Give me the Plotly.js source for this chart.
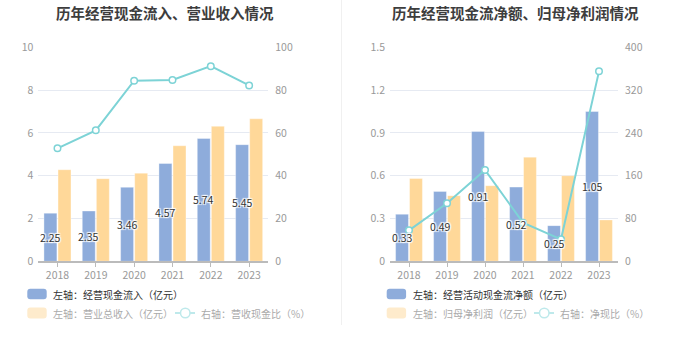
<!DOCTYPE html>
<html>
<head>
<meta charset="utf-8">
<script src="https://cdn.plot.ly/plotly-3.0.1.min.js"></script>
<style>html,body{margin:0;padding:0;background:#fff;}#chart{width:680px;height:349px;}</style>
</head>
<body>
<div id="chart"></div>
<script>
// ---- data ----
const years = ['2018', '2019', '2020', '2021', '2022', '2023'];
const cashInflow = [2.25, 2.35, 3.46, 4.57, 5.74, 5.45];
const revenue = [4.28, 3.86, 4.12, 5.40, 6.31, 6.66];
const cashRevRatio = [52.8, 61.2, 84.4, 84.7, 91.2, 82.2];
const netCashFlow = [0.33, 0.49, 0.91, 0.52, 0.25, 1.05];
const netProfit = [0.58, 0.46, 0.53, 0.73, 0.60, 0.29];
const netCashRatio = [57.9, 108.4, 170.7, 72.2, 41.1, 355];
const titles = ['历年经营现金流入、营业收入情况', '历年经营现金流净额、归母净利润情况'];
const legendLeft = ['左轴：经营现金流入（亿元）', '左轴：营业总收入（亿元）', '右轴：营收现金比（%）'];
const legendRight = ['左轴：经营活动现金流净额（亿元）', '左轴：归母净利润（亿元）', '右轴：净现比（%）'];

// ---- style ----
const W = 680, H = 349;
const px = x => x / W;
const py = y => 1 - y / H;
const FONT = '"Noto Sans CJK SC", "Noto Sans", sans-serif';
const BLUE = 'rgb(142,172,219)';
const YELLOW = 'rgb(255,216,153)';
const CYAN = 'rgb(125,211,214)';
const YELLOW_FADED = 'rgb(254,235,204)';
const CYAN_FADED = 'rgb(190,233,235)';
const halo = '1px 1px 1px #fff, -1px -1px 1px #fff, 1px -1px 1px #fff, -1px 1px 1px #fff, 0 0 2px #fff';

// bar geometry in category units
const GROUP = 0.735, SLOT = GROUP / 2, BAR_W = SLOT * 0.92;
const OFF_BLUE = -GROUP / 2 + (SLOT - BAR_W) / 2;
const OFF_YEL = OFF_BLUE + SLOT;
const BLUE_CENTER = OFF_BLUE + BAR_W / 2;
const barLine = { color: 'rgba(255,255,255,0.6)', width: 0.6 };

function barTrace(y, color, xa, ya, off) {
  return { type: 'bar', x: years, y: y, xaxis: xa, yaxis: ya, width: BAR_W, offset: off,
    marker: { color: color, line: barLine }, hoverinfo: 'skip' };
}
function lineTrace(y, xa, ya) {
  return { type: 'scatter', mode: 'lines+markers', x: years, y: y, xaxis: xa, yaxis: ya,
    line: { color: CYAN, width: 2 }, marker: { symbol: 'circle', size: 6.5, color: '#fff', line: { color: CYAN, width: 1.5 } },
    hoverinfo: 'skip', cliponaxis: false };
}

const traces = [
  barTrace(revenue, YELLOW, 'x', 'y', OFF_YEL),
  barTrace(cashInflow, BLUE, 'x', 'y', OFF_BLUE),
  lineTrace(cashRevRatio, 'x', 'y2'),
  barTrace(netProfit, YELLOW, 'x2', 'y3', OFF_YEL),
  barTrace(netCashFlow, BLUE, 'x2', 'y3', OFF_BLUE),
  lineTrace(netCashRatio, 'x2', 'y4')
];

const yDom = [py(261.3), py(47.3)];
const tickFont = { family: FONT, size: 10.5, color: '#999' };
function xAxis(dom, anchor) {
  return { domain: dom, anchor: anchor, type: 'category', range: [-0.5, years.length - 0.5], showgrid: false, zeroline: false,
    showline: true, linecolor: '#bbb', linewidth: 1.5, ticks: 'outside', ticklen: 4, tickcolor: '#bbb', tickwidth: 1,
    tickfont: tickFont, fixedrange: true };
}
function yLeft(range, dtick, anchor) {
  return { domain: yDom, anchor: anchor, range: range, dtick: dtick, tick0: 0, showgrid: true, gridcolor: '#e6eaf2', gridwidth: 1,
    zeroline: false, showline: false, ticks: '', tickfont: tickFont, ticklabelstandoff: 4, fixedrange: true };
}
function yRight(range, dtick, overlay, anchor) {
  return { overlaying: overlay, anchor: anchor, side: 'right', range: range, dtick: dtick, tick0: 0, showgrid: false,
    zeroline: false, showline: false, ticks: '', tickfont: tickFont, ticklabelstandoff: 6, fixedrange: true };
}

function roundRect(x0, y0, x1, y1, r) {
  const X = v => px(v), Y = v => py(v);
  return `M ${X(x0 + r)} ${Y(y0)} L ${X(x1 - r)} ${Y(y0)} Q ${X(x1)} ${Y(y0)} ${X(x1)} ${Y(y0 + r)} L ${X(x1)} ${Y(y1 - r)} Q ${X(x1)} ${Y(y1)} ${X(x1 - r)} ${Y(y1)} L ${X(x0 + r)} ${Y(y1)} Q ${X(x0)} ${Y(y1)} ${X(x0)} ${Y(y1 - r)} L ${X(x0)} ${Y(y0 + r)} Q ${X(x0)} ${Y(y0)} ${X(x0 + r)} ${Y(y0)} Z`;
}

const shapes = [];
const annotations = [];

// value labels centred in blue bars (drawn above everything, like the reference)
function barLabels(vals, xa, ya) {
  vals.forEach((v, i) => {
    annotations.push({ xref: xa, yref: ya, x: i + BLUE_CENTER, y: v / 2, xanchor: 'center', yanchor: 'middle', showarrow: false,
      text: v.toFixed(2), font: { family: FONT, size: 10.5, color: '#333', shadow: halo } });
  });
}
barLabels(cashInflow, 'x', 'y');
barLabels(netCashFlow, 'x2', 'y3');

function legendBlock(labels, sx, lineX, row1, row2) {
  shapes.push({ type: 'path', xref: 'paper', yref: 'paper', path: roundRect(sx, row1 - 5.2, sx + 19.4, row1 + 5.2, 3), fillcolor: BLUE, line: { width: 0 } });
  shapes.push({ type: 'path', xref: 'paper', yref: 'paper', path: roundRect(sx, row2 - 5.5, sx + 19.4, row2 + 5.5, 3), fillcolor: YELLOW_FADED, line: { width: 0 } });
  shapes.push({ type: 'line', xref: 'paper', yref: 'paper', x0: px(lineX), x1: px(lineX + 20), y0: py(row2), y1: py(row2), line: { color: CYAN_FADED, width: 2 } });
  shapes.push({ type: 'circle', xref: 'paper', yref: 'paper', x0: px(lineX + 5.5), x1: px(lineX + 15), y0: py(row2 - 4.75), y1: py(row2 + 4.75), fillcolor: '#fff', line: { color: CYAN_FADED, width: 1.5 } });
  const tx = sx + 24;
  annotations.push({ xref: 'paper', yref: 'paper', x: px(tx), y: py(row1), xanchor: 'left', yanchor: 'middle', showarrow: false, text: labels[0], font: { family: FONT, size: 10, color: '#333' } });
  annotations.push({ xref: 'paper', yref: 'paper', x: px(tx), y: py(row2), xanchor: 'left', yanchor: 'middle', showarrow: false, text: labels[1], font: { family: FONT, size: 10, color: '#aaa' } });
  annotations.push({ xref: 'paper', yref: 'paper', x: px(lineX + 24), y: py(row2), xanchor: 'left', yanchor: 'middle', showarrow: false, text: labels[2], font: { family: FONT, size: 10, color: '#aaa' } });
}
legendBlock(legendLeft, 27.3, 175, 294, 313);
legendBlock(legendRight, 386.7, 534, 294, 313);

annotations.push({ xref: 'paper', yref: 'paper', x: px(165), y: py(12), xanchor: 'center', yanchor: 'middle', showarrow: false, text: '<b>' + titles[0] + '</b>', font: { family: FONT, size: 14.5, color: '#3d3d3d' } });
annotations.push({ xref: 'paper', yref: 'paper', x: px(515.5), y: py(12), xanchor: 'center', yanchor: 'middle', showarrow: false, text: '<b>' + titles[1] + '</b>', font: { family: FONT, size: 14.5, color: '#3d3d3d' } });

shapes.push({ type: 'line', xref: 'paper', yref: 'paper', x0: px(341.5), x1: px(341.5), y0: py(0), y1: py(325), line: { color: '#f0f0f0', width: 1 } });

const layout = {
  width: W, height: H, margin: { l: 0, r: 0, t: 0, b: 0 }, paper_bgcolor: '#fff', plot_bgcolor: 'rgba(0,0,0,0)',
  showlegend: false, barmode: 'overlay',
  font: { family: FONT },
  xaxis: xAxis([px(38.3), px(268.3)], 'y'),
  yaxis: yLeft([0, 10], 2, 'x'),
  yaxis2: yRight([0, 100], 20, 'y', 'x'),
  xaxis2: xAxis([px(390), px(618)], 'y3'),
  yaxis3: yLeft([0, 1.5], 0.3, 'x2'),
  yaxis4: yRight([0, 400], 80, 'y3', 'x2'),
  shapes: shapes, annotations: annotations
};

Plotly.newPlot('chart', traces, layout, { staticPlot: true, displayModeBar: false });
</script>
</body>
</html>
